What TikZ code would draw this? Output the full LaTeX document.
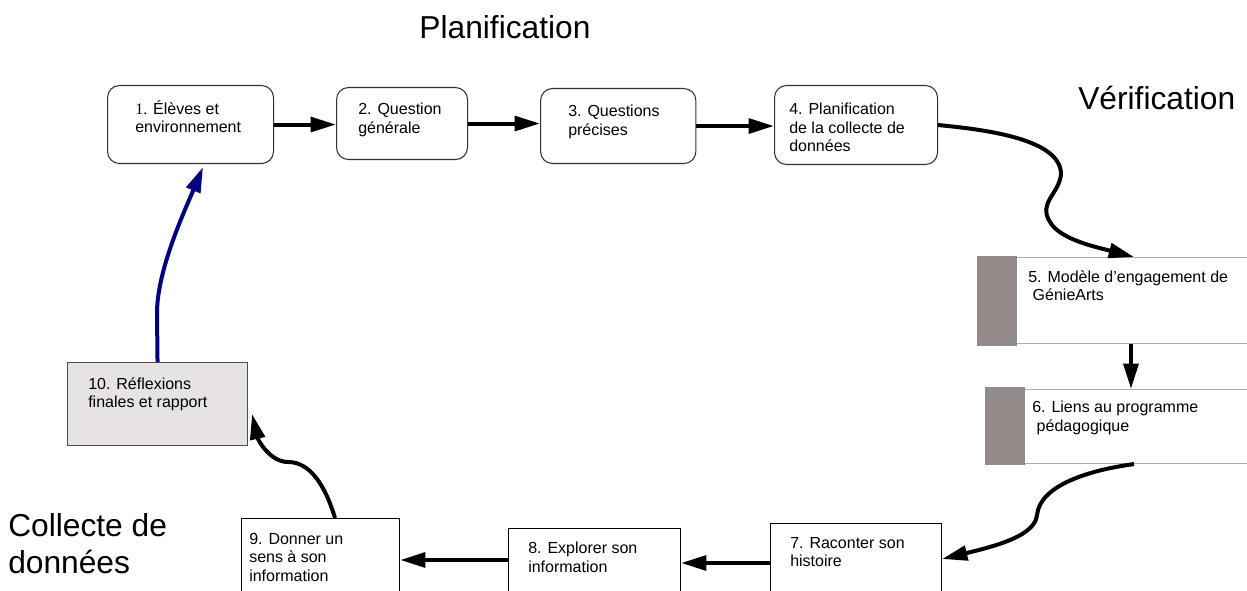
\documentclass[tikz,border=0pt]{standalone}
\usepackage{fontspec}
\setmainfont{Liberation Sans}
\newfontfamily\numfont{Liberation Serif}
\usetikzlibrary{arrows.meta,positioning,calc}
\definecolor{barfill}{RGB}{147,139,137}
\definecolor{barline}{RGB}{180,173,172}
\definecolor{reportfill}{RGB}{230,227,226}
\definecolor{navyline}{RGB}{0,0,128}
\tikzstyle{stage}=[draw=black!80,rounded corners=9pt,anchor=north west,inner sep=0pt,line width=0.8pt]
\tikzstyle{plainbox}=[draw=black,anchor=north west,inner sep=0pt,line width=0.8pt]
\tikzstyle{sidebox}=[draw=barline,anchor=north west,inner sep=0pt,line width=0.8pt]
\tikzstyle{sidebar}=[fill=barfill,anchor=north west,inner sep=0pt,minimum width=30pt]
\tikzstyle{caption}=[anchor=north west,align=left,inner sep=0pt,font=\fontsize{12}{13.75}\selectfont]
\tikzstyle{heading}=[inner sep=0pt,align=left,font=\fontsize{23.8}{27.75}\selectfont]
\tikzstyle{link}=[line width=3pt,-{Triangle[length=19pt,width=11pt]}]

\begin{document}
\begin{tikzpicture}[x=0.75pt,y=-0.75pt]
\useasboundingbox (0,0) rectangle (1247,591);
\clip (0,0) rectangle (1247,591);
\node[heading,anchor=north] (plan) at (505,15) {Planification};
\node[heading,anchor=north west] (verif) at (1078,86) {Vérification};
\node[heading,anchor=north west] (collect) at (8,513) {Collecte de\\données};

\node[stage,minimum width=124.5pt,minimum height=58.5pt] (s1) at (107,85) {};
\node[stage,minimum width=98.25pt,minimum height=54pt] (s2) at (336,87) {};
\node[stage,minimum width=116.5pt,minimum height=56.25pt] (s3) at (540,88) {};
\node[stage,minimum width=122.25pt,minimum height=59.25pt] (s4) at (774,85) {};
\node[sidebox,minimum width=190pt,minimum height=64.5pt] (s5) at (1015,257) {};
\node[sidebar,minimum height=67.5pt] (b5) at (977,256) {};
\node[sidebox,minimum width=190pt,minimum height=55.5pt] (s6) at (1023,389) {};
\node[sidebar,minimum height=58.5pt] (b6) at (985,387) {};
\node[plainbox,minimum width=128.25pt,minimum height=75pt] (s7) at (770,523) {};
\node[plainbox,minimum width=129pt,minimum height=75pt] (s8) at (508,528) {};
\node[plainbox,minimum width=118.5pt,minimum height=75pt] (s9) at (241,518) {};
\node[plainbox,fill=reportfill,draw=black!70,minimum width=135pt,minimum height=62.25pt] (s10) at (67,362) {};

\node[caption] (c1) at (135,100) {{\numfont 1.} Élèves et\\environnement};
\node[caption] (c2) at (358,103) {2. Question\\générale};
\node[caption] (c3) at (568,105) {3. Questions\\précises};
\node[caption] (c4) at (789,103) {4. Planification\\de la collecte de\\données};
\node[caption] (c5) at (1028,270) {5. Modèle d’engagement de\\\ GénieArts};
\node[caption] (c6) at (1032,401) {6. Liens au programme\\\ pédagogique};
\node[caption] (c7) at (790,537) {7. Raconter son\\histoire};
\node[caption] (c8) at (528,542) {8. Explorer son\\information};
\node[caption] (c9) at (249,533) {9. Donner un\\sens à son\\information};
\node[caption] (c10) at (88,377) {10. Réflexions\\finales et rapport};

\coordinate (a5) at ($(s5.south west)+(116,0)$);
\coordinate (t5) at ($(s5.north west)+(119,0)$);
\coordinate (a6) at ($(s6.south west)+(111,0)$);
\coordinate (t7) at ($(s7.north east)+(0,36)$);
\coordinate (a9) at ($(s9.north west)+(94,0)$);
\coordinate (t10) at ($(s10.north east)+(4,52)$);
\coordinate (t1) at ($(s1.south west)+(96,3)$);

\draw[link] (s1.east) -- (s1.east -| s2.west);
\draw[link] (s2.east) -- (s2.east -| s3.west);
\draw[link] (s3.east) -- (s3.east -| s4.west);
\draw[link] (s4.east) .. controls (990,130) and (1062,140) .. (1061,175) .. controls (1058,195) and (1038,203) .. (1050,222) .. controls (1060,240) and (1100,248) .. (t5);
\draw[link] (a5) -- (a5 |- s6.north);
\draw[link] (a6) .. controls (1090,470) and (1040,485) .. (1037,515) .. controls (1035,535) and (1000,545) .. (t7);
\draw[link] ($(s7.north west)+(0,40)$) -- ($(s8.north east)+(0,35)$);
\draw[link] ($(s8.north west)+(0,32)$) -- ($(s9.north east)+(0,42)$);
\draw[link] (a9) .. controls (325,485) and (310,462) .. (288,462) .. controls (270,462) and (258,440) .. (t10);
\draw[link,navyline] (s10.north) -- (157,313) .. controls (157,270) and (185,210) .. (t1);
\end{tikzpicture}
\end{document}
